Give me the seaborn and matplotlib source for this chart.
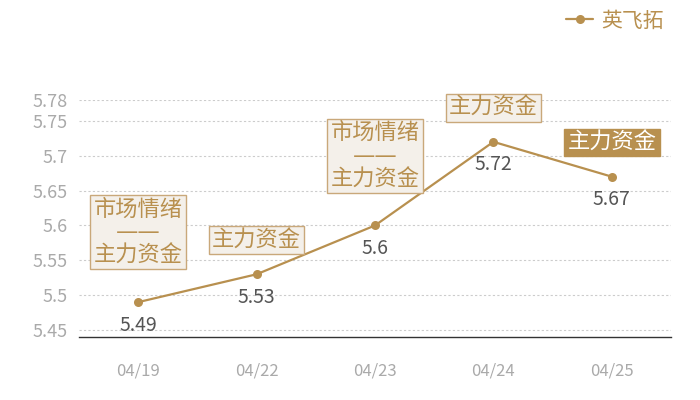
import matplotlib
matplotlib.use("Agg")
import matplotlib.pyplot as plt
import seaborn as sns
import pandas as pd

# data
dates = ["04/19", "04/22", "04/23", "04/24", "04/25"]
prices = [5.49, 5.53, 5.6, 5.72, 5.67]
notes = ["市场情绪\n——\n主力资金", "主力资金", "市场情绪\n——\n主力资金", "主力资金", "主力资金"]
highlight = [False, False, False, False, True]
y_ticks = [5.45, 5.5, 5.55, 5.6, 5.65, 5.7, 5.75, 5.78]
series_name = "英飞拓"

gold = "#b8904f"
sns.set_theme(style="white")
plt.rcParams["font.family"] = ["Noto Sans CJK SC", "DejaVu Sans"]

df = pd.DataFrame({"date": dates, "price": prices})

fig = plt.figure(figsize=(7, 4), dpi=100)
ax = fig.add_axes([79 / 700, 1 - 337 / 400, (671 - 79) / 700, (337 - 100) / 400])

sns.lineplot(data=df, x="date", y="price", ax=ax, color=gold, linewidth=1.6,
             marker="o", markersize=6.5, markeredgewidth=0, label=series_name)

ax.set_xlim(-0.5, len(dates) - 0.5)
ax.set_ylim(5.44, 5.78)
ax.set_yticks(y_ticks)
ax.set_yticklabels([f"{t:g}" for t in y_ticks])
ax.set_xlabel("")
ax.set_ylabel("")
ax.tick_params(axis="both", length=0, colors="#aaaaaa")
ax.tick_params(axis="x", pad=18, labelsize=12)
ax.tick_params(axis="y", pad=8, labelsize=13)
ax.grid(axis="y", color="#cccccc", linestyle=(0, (2, 2)), linewidth=0.8)
for side in ["top", "right", "left"]:
    ax.spines[side].set_visible(False)
ax.spines["bottom"].set_color("#333333")
ax.spines["bottom"].set_linewidth(1)

for i, (v, note, hl) in enumerate(zip(prices, notes, highlight)):
    ax.annotate(f"{v:g}", (i, v), xytext=(0, -9), textcoords="offset points",
                ha="center", va="top", fontsize=14, color="#555555")
    lift = 26 if "\n" in note else 17
    if hl:
        box = dict(boxstyle="square,pad=0.15", fc=gold, ec=gold, lw=1)
        tc = "white"
    else:
        box = dict(boxstyle="square,pad=0.15", fc="#f4f0ea", ec="#c9a87a", lw=1)
        tc = gold
    # DejaVu first so the dash line is drawn as one unbroken stroke
    ax.annotate(note, (i, v), xytext=(0, lift), textcoords="offset points",
                ha="center", va="bottom", fontsize=16, color=tc, bbox=box,
                linespacing=1.15, multialignment="center",
                family=["DejaVu Sans", "Noto Sans CJK SC"])

leg = ax.legend(loc="upper right", bbox_to_anchor=(1.02, 1.46), frameon=False,
                fontsize=15, handlelength=1.3, handletextpad=0.4)
for t in leg.get_texts():
    t.set_color(gold)

fig.savefig("out.png", dpi=100)
